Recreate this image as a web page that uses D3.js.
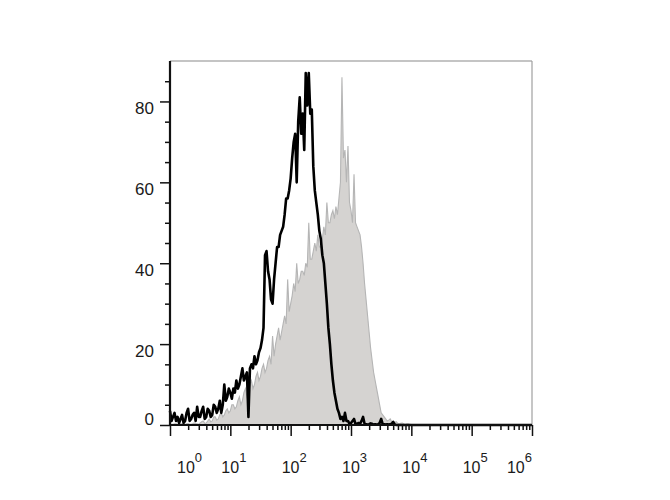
<!DOCTYPE html>
<html><head><meta charset="utf-8">
<script src="https://cdn.jsdelivr.net/npm/d3@7/dist/d3.min.js"></script>
<style>
html,body{margin:0;padding:0;background:#fff;}
svg{display:block;}
</style></head>
<body>
<svg id="chart" width="670" height="500"></svg>
<script>
// ---- data (histogram channels: channel i sits at 10^(i*binWidth)) ----
const binWidth = 0.025; // decades per channel
const blackCounts = [
 3.5,1,2,3,1,2,0.5,1.5,2.5,0.5,
 1,3,4,1,1.5,2.5,3,1,4.5,2,
 2,3.5,4.5,1.5,2,4,3.5,2,2.5,5,
 4.5,3,4,6,3,5,10,6,7,9,
 8,6.5,9,8,11,9,10,12,14,11,
 12,13,2,14,15,14,17,15,16,18,
 19,21,24,42,43,38,36,31,30,36,
 40,44,44,47,48,49,52,56,56,58,
 61,66,70,72,60,75,81,72,77,68,
 87,79,87,77,78,64,58,55,52,48,
 46,42,40,35,30,24,20,15,11,8,
 6,4,3,1.5,2,1,3,1,1,0.3,
 0.5,1,1.5,0.2,0.3,0.5,0.3,1,2,0.3,
 0.2,0.1,0.2,0.4,0.3,0.1,0.2,0.1,0.2,0.5,
 1.5,0.2,0.2,0.1,0.2,0.1,0.2,0.3,0.8,0.1,
 0,0,0,0,0,0,0,0,0,0,
 0,0,0,0,0,0,0,0,0,0,
 0,0,0,0,0,0,0,0,0,0,
 0,0,0,0,0,0,0,0,0,0,
 0,0,0,0,0,0,0,0,0,0,
 0,0,0,0,0,0,0,0,0,0,
 0,0,0,0,0,0,0,0,0,0,
 0,0,0,0,0,0,0,0,0,0,
 0,0,0,0,0,0,0,0,0,0,
 0
];
const grayCounts = [
 0.3,0.2,0.2,0.3,0.3,0.2,0.2,0.3,0.3,0.2,
 0.2,0.3,0.4,0.2,0.2,0.3,0.5,0.3,0.3,0.2,
 0.5,0.8,1,0.4,0.5,1,1.5,0.8,1,2,
 2,1.2,1.5,2.5,3,2,2.5,3.5,4,3,
 3.5,5,5,4,4.5,6,7,5,6,8,
 9,7,8,10,11,9,10,12,13,11,
 12,14,15,13,14,16,17,15,22,17,
 20,22,24,21,23,25,27,25,36,28,
 30,32,35,33,40,35,36,38,38,37,
 40,39,50,41,41,43,45,43,47,44,
 44,46,49,47,55,50,50,52,53,51,
 54,52,56,60,86,66,68,60,69,55,
 53,50,62,50,49,48,47,44,40,35,
 31,27,23,19,16,13,11,9,7,5,
 3,2.5,2,1.5,1,1.2,1.5,0.8,0.5,0.6,
 0.8,0.4,0.3,0.4,0.5,0.3,0.2,0.3,0.3,0.2,
 0.1,0.1,0.1,0.1,0.1,0.1,0.1,0.1,0.1,0.1,
 0.1,0.1,0.1,0.1,0.1,0.1,0.1,0.1,0.1,0.1,
 0.1,0.1,0.1,0.1,0.1,0.1,0.1,0.1,0.1,0.1,
 0.1,0.1,0.1,0.1,0.1,0.1,0.1,0.1,0.1,0.1,
 0.1,0.1,0.1,0.1,0.1,0.1,0.1,0.1,0.1,0.1,
 0.1,0.1,0.1,0.1,0.1,0.1,0.1,0.1,0.1,0.1,
 0.1,0.1,0.1,0.1,0.1,0.1,0.1,0.1,0.1,0.1,
 0.1,0.1,0.1,0.1,0.1,0.1,0.1,0.1,0.1,0.1,
 0.3
];
const yMajorTicks = [0,20,40,60,80];
const yMinorTicks = [5,10,15,25,30,35,45,50,55,65,70,75,85];
const xMajorTicks = [1,10,100,1000,10000,100000,1000000];
const xLabelExponents = ["0","1","2","3","4","5","6"];
const xMinorMultipliers = [2,3,4,5,6,7,8,9];

// ---- layout ----
const svg = d3.select("#chart");
const L = 170, R = 532, T = 61, B = 425;
const x = d3.scaleLog().domain([1, 1e6]).range([L, R]);
const y = d3.scaleLinear().domain([0, 90]).range([B, T]);

const pts = arr => arr.map((v,i)=>[Math.pow(10, i*binWidth), v]);

// gray filled histogram
const area = d3.area().x(d=>x(d[0])).y0(y(0)).y1(d=>y(d[1]));
const line = d3.line().x(d=>x(d[0])).y(d=>y(d[1]));
svg.append("path").datum(pts(grayCounts)).attr("d", area)
  .attr("fill", "#d5d3d1");
svg.append("path").datum(pts(grayCounts)).attr("d", line)
  .attr("fill", "none").attr("stroke", "#b5b5b5").attr("stroke-width", 1.1);

// black outline histogram
svg.append("path").datum(pts(blackCounts)).attr("d", line)
  .attr("fill", "none").attr("stroke", "#000").attr("stroke-width", 2.6)
  .attr("stroke-linejoin", "round");

// frame (top and right)
svg.append("line").attr("x1", L).attr("x2", R).attr("y1", T).attr("y2", T)
  .attr("stroke", "#8a8a8a").attr("stroke-width", 1.2);
svg.append("line").attr("x1", R).attr("x2", R).attr("y1", T).attr("y2", B)
  .attr("stroke", "#a0a0a0").attr("stroke-width", 1.2);

// y axis
const gy = svg.append("g").attr("transform", `translate(${L},0)`);
gy.call(d3.axisLeft(y).tickValues(yMajorTicks).tickSize(10).tickFormat(""));
const gym = svg.append("g").attr("transform", `translate(${L},0)`);
gym.call(d3.axisLeft(y).tickValues(yMinorTicks).tickSize(5).tickFormat(""));
[gy, gym].forEach(g=>{
  g.select(".domain").remove();
  g.selectAll(".tick line").attr("stroke", "#111").attr("stroke-width", 1.5);
});
svg.append("line").attr("x1", L).attr("x2", L).attr("y1", T).attr("y2", B)
  .attr("stroke", "#111").attr("stroke-width", 2.2);

svg.append("g").selectAll("text").data(yMajorTicks).join("text")
  .attr("x", 154)
  .attr("y", d => d === 0 ? y(d) : y(d) + 12.5)
  .attr("text-anchor", "end")
  .attr("font-family", "Liberation Sans, Arial, sans-serif")
  .attr("font-size", 17).attr("fill", "#1a1a1a")
  .text(d => d);

// x axis
const minorX = [];
xMajorTicks.slice(0, -1).forEach(m => xMinorMultipliers.forEach(k => minorX.push(m*k)));
const gx = svg.append("g").attr("transform", `translate(0,${B})`);
gx.call(d3.axisBottom(x).tickValues(xMajorTicks).tickSize(11).tickFormat(""));
const gxm = svg.append("g").attr("transform", `translate(0,${B})`);
gxm.call(d3.axisBottom(x).tickValues(minorX).tickSize(5).tickFormat(""));
[gx, gxm].forEach(g=>{
  g.select(".domain").remove();
  g.selectAll(".tick line").attr("stroke", "#111").attr("stroke-width", 1.5);
});
svg.append("line").attr("x1", L).attr("x2", R).attr("y1", B).attr("y2", B)
  .attr("stroke", "#111").attr("stroke-width", 2.2);

const last = xMajorTicks.length - 1;
const xl = svg.append("g").selectAll("text").data(xMajorTicks).join("text")
  .attr("x", (d,i) => i === 0 ? x(d) + 7 : (i === last ? x(d) : x(d) - 9))
  .attr("y", 473)
  .attr("text-anchor", (d,i) => i === last ? "end" : "start")
  .attr("font-family", "Liberation Sans, Arial, sans-serif")
  .attr("fill", "#1a1a1a");
xl.append("tspan").attr("font-size", 16).text("10");
xl.append("tspan").attr("font-size", 13).attr("dy", -11)
  .text((d,i) => xLabelExponents[i]);
</script>
</body></html>
